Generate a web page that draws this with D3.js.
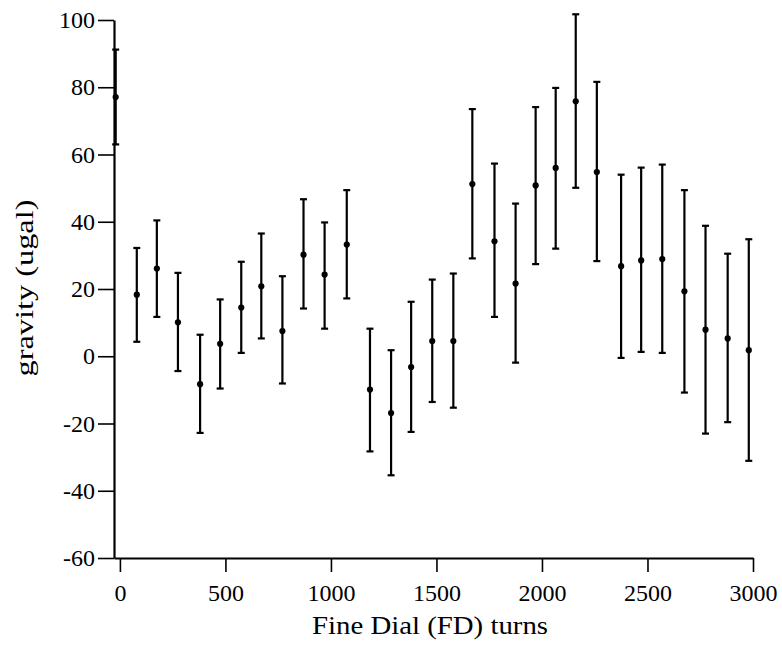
<!DOCTYPE html>
<html lang="en">
<head>
<meta charset="utf-8">
<title>gravity vs fine dial turns</title>
<script src="https://cdn.jsdelivr.net/npm/d3@7"></script>
<style>
  * { margin: 0; padding: 0; }
  body { background: #fff; }
  svg { display: block; }
  .tick text { font-family: "Liberation Serif", "DejaVu Serif", serif; font-size: 24px; fill: #000; }
  .axis-title { font-family: "Liberation Serif", "DejaVu Serif", serif; fill: #000; }
</style>
</head>
<body>
<div id="chart"></div>
<script>
  // fine dial turns
  const turns = [-20, 80, 175, 275, 380, 475, 575, 670, 770, 870, 970, 1075,
                 1185, 1285, 1380, 1480, 1580, 1670, 1775, 1875, 1970, 2065,
                 2160, 2260, 2375, 2470, 2570, 2675, 2775, 2880, 2980];
  // gravity (ugal) and ends of the error bars
  const gravity = [77.1, 18.3, 26.1, 10.1, -8.3, 3.7, 14.5, 20.8, 7.5, 30.2, 24.3, 33.2,
                   -9.9, -16.9, -3.2, 4.5, 4.5, 51.2, 34.2, 21.6, 50.8, 56.0,
                   75.8, 54.8, 26.8, 28.5, 28.9, 19.3, 7.9, 5.3, 1.8];
  const upper = [91.2, 32.2, 40.4, 24.8, 6.4, 16.9, 28.1, 36.5, 23.8, 46.7, 39.8, 49.4,
                 8.2, 1.8, 16.2, 22.8, 24.6, 73.5, 57.3, 45.4, 74.1, 79.8,
                 101.7, 81.6, 54.0, 56.1, 57.0, 49.4, 38.8, 30.5, 34.8];
  const lower = [63.0, 4.3, 11.7, -4.4, -22.8, -9.6, 1.0, 5.3, -8.1, 14.2, 8.2, 17.2,
                 -28.3, -35.4, -22.5, -13.6, -15.3, 29.1, 11.7, -1.9, 27.4, 32.0,
                 50.1, 28.3, -0.5, 1.3, 1.0, -10.8, -23.0, -19.6, -31.1];
  const xTicks = [0, 500, 1000, 1500, 2000, 2500, 3000];
  const yTicks = [-60, -40, -20, 0, 20, 40, 60, 80, 100];

  const data = turns.map((t, i) => ({x: t, y: gravity[i], hi: upper[i], lo: lower[i]}));

  const W = 782, H = 645;
  const svg = d3.select("#chart").append("svg")
    .attr("width", W).attr("height", H);

  // the y axis sits a little left of zero
  const x = d3.scaleLinear().domain([-28, 3000]).range([114, 753]);
  const y = d3.scaleLinear().domain([-60, 100]).range([558, 20]);

  // x axis
  const gx = svg.append("g")
    .attr("transform", `translate(0,${y(-60)})`)
    .call(d3.axisBottom(x).tickValues(xTicks).tickFormat(d3.format("d"))
      .tickSize(14).tickPadding(12).tickSizeOuter(0));
  gx.select(".domain").attr("stroke", "#000").attr("stroke-width", 2.2);
  gx.selectAll(".tick line").attr("stroke-width", 1.6);

  // y axis
  const gy = svg.append("g")
    .attr("transform", `translate(${x(-28)},0)`)
    .call(d3.axisLeft(y).tickValues(yTicks).tickFormat(d => String(d))
      .tickSize(16).tickPadding(3).tickSizeOuter(0));
  gy.select(".domain").attr("stroke", "#000").attr("stroke-width", 2.2);
  gy.selectAll(".tick line").attr("stroke-width", 1.6);

  // error bars
  const bars = svg.append("g").attr("stroke", "#000").attr("stroke-width", 2.2);
  bars.selectAll(".stem").data(data).enter().append("line")
    .attr("class", "stem")
    .attr("x1", d => x(d.x)).attr("x2", d => x(d.x))
    .attr("y1", d => y(d.hi)).attr("y2", d => y(d.lo));
  bars.selectAll(".capTop").data(data).enter().append("line")
    .attr("class", "capTop")
    .attr("x1", d => x(d.x) - 3.5).attr("x2", d => x(d.x) + 3.5)
    .attr("y1", d => y(d.hi)).attr("y2", d => y(d.hi));
  bars.selectAll(".capBot").data(data).enter().append("line")
    .attr("class", "capBot")
    .attr("x1", d => x(d.x) - 3.5).attr("x2", d => x(d.x) + 3.5)
    .attr("y1", d => y(d.lo)).attr("y2", d => y(d.lo));

  svg.append("g").selectAll("circle").data(data).enter().append("circle")
    .attr("cx", d => x(d.x))
    .attr("cy", d => y(d.y))
    .attr("r", 3.1)
    .attr("fill", "#000");

  // titles
  svg.append("text").attr("class", "axis-title")
    .attr("x", 430).attr("y", 634)
    .attr("text-anchor", "middle")
    .style("font-size", "25px")
    .attr("textLength", 236).attr("lengthAdjust", "spacingAndGlyphs")
    .text("Fine Dial (FD) turns");
  svg.append("text").attr("class", "axis-title")
    .attr("transform", "translate(33,288) rotate(-90)")
    .attr("text-anchor", "middle")
    .style("font-size", "26px")
    .attr("textLength", 177).attr("lengthAdjust", "spacingAndGlyphs")
    .text("gravity (ugal)");
</script>
</body>
</html>
